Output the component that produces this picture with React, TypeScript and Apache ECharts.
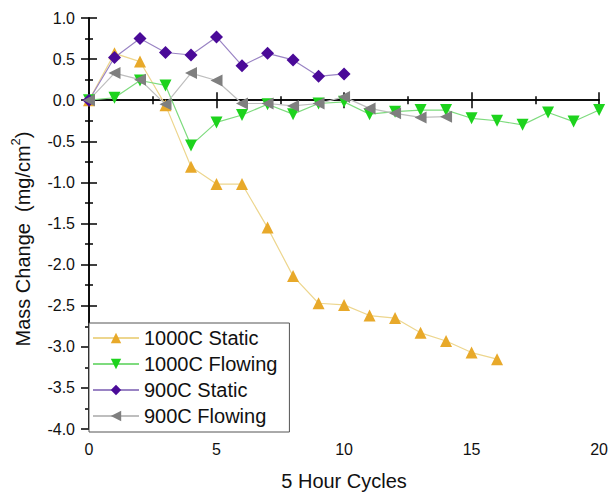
import React, { useEffect, useRef } from "react";
import * as echarts from "echarts";

const cycles = [0, 1, 2, 3, 4, 5, 6, 7, 8, 9, 10, 11, 12, 13, 14, 15, 16, 17, 18, 19, 20];
const static1000 = [0, 0.57, 0.47, -0.06, -0.81, -1.02, -1.02, -1.55, -2.14, -2.47, -2.49, -2.62, -2.65, -2.83, -2.93, -3.07, -3.15];
const flowing1000 = [0, 0.03, 0.24, 0.18, -0.55, -0.27, -0.18, -0.05, -0.17, -0.04, -0.02, -0.17, -0.14, -0.12, -0.12, -0.22, -0.25, -0.3, -0.15, -0.26, -0.12];
const static900 = [0, 0.52, 0.75, 0.58, 0.55, 0.77, 0.42, 0.57, 0.49, 0.29, 0.32];
const flowing900 = [0, 0.33, 0.25, -0.05, 0.33, 0.24, -0.04, -0.04, -0.07, -0.04, 0.04, -0.1, -0.16, -0.21, -0.2];

const FONT = "Liberation Sans, Arial, sans-serif";

function pairs(vals: number[]) {
  return vals.map((v, i) => [cycles[i], v]);
}

export default function App() {
  const ref = useRef<HTMLDivElement>(null);
  useEffect(() => {
    if (!ref.current) return;
    const chart = echarts.init(ref.current, null, { renderer: "svg" });
    const axisLine = { show: true, lineStyle: { color: "#000", width: 1.5 } };
    const tick = { show: true, inside: false, length: 8, lineStyle: { color: "#000", width: 1.5 } };
    const minor = { show: true, splitNumber: 2, length: 4, lineStyle: { color: "#000", width: 1.5 } };
    const mk = (name: string, data: number[], color: string, line: string, symbol: string, rot: number, size: number) => ({
      name,
      type: "line",
      data: pairs(data),
      symbol,
      symbolSize: size,
      symbolRotate: rot,
      showSymbol: true,
      itemStyle: { color },
      lineStyle: { color: line, width: 1.2 },
      emphasis: { disabled: true },
    });
    chart.setOption({
      animation: false,
      textStyle: { fontFamily: FONT },
      grid: { left: 89, right: 10, top: 18, bottom: 63, containLabel: false },
      graphic: [
        {
          type: "text",
          x: 21,
          y: 239,
          rotation: Math.PI / 2,
          style: {
            text: "{a|Mass Change  (mg/cm}{s|2}{a|)}",
            align: "center",
            verticalAlign: "middle",
            fill: "#111",
            font: "20px " + FONT,
            rich: {
              a: { fontSize: 20, fontFamily: FONT, fill: "#111", lineHeight: 24, verticalAlign: "bottom" },
              s: { fontSize: 13, fontFamily: FONT, fill: "#111", lineHeight: 24, verticalAlign: "top" },
            },
          },
        },
      ],
      legend: {
        orient: "vertical",
        left: 89,
        top: 323,
        padding: [5, 12, 6, 3],
        itemGap: 6,
        itemWidth: 46,
        itemHeight: 13,
        borderColor: "#555",
        borderWidth: 1,
        backgroundColor: "#fff",
        textStyle: { fontSize: 20, color: "#111", fontFamily: FONT },
        data: ["1000C Static", "1000C Flowing", "900C Static", "900C Flowing"],
      },
      xAxis: [
        {
          type: "value",
          min: 0,
          max: 20,
          interval: 5,
          position: "bottom",
          name: "5 Hour Cycles",
          nameLocation: "middle",
          nameGap: 42,
          nameTextStyle: { fontSize: 20, color: "#111", fontFamily: FONT },
          axisLine,
          axisTick: tick,
          minorTick: minor,
          axisLabel: { fontSize: 16, color: "#111", margin: 12, fontFamily: FONT },
          splitLine: { show: false },
        },
        {
          type: "value",
          min: 0,
          max: 20,
          interval: 5,
          position: "top",
          axisLine,
          axisTick: tick,
          minorTick: minor,
          axisLabel: { show: false },
          splitLine: { show: false },
        },
      ],
      yAxis: [
        {
          type: "value",
          min: -4,
          max: 1,
          interval: 0.5,
          position: "left",
          axisLine,
          axisTick: tick,
          minorTick: minor,
          axisLabel: {
            fontSize: 16,
            color: "#111",
            margin: 14,
            fontFamily: FONT,
            formatter: (v: number) => v.toFixed(1),
          },
          splitLine: { show: false },
        },
        {
          type: "value",
          min: -4,
          max: 1,
          interval: 0.5,
          position: "right",
          axisLine,
          axisTick: tick,
          minorTick: minor,
          axisLabel: { show: false },
          splitLine: { show: false },
        },
      ],
      series: [
        mk("1000C Static", static1000, "#E8A92A", "#EDD68E", "triangle", 0, 12),
        mk("1000C Flowing", flowing1000, "#1DD31D", "#7EDB7E", "triangle", 180, 12),
        mk("900C Static", static900, "#4A0A98", "#9A84C4", "diamond", 0, 13),
        mk("900C Flowing", flowing900, "#7F7F7F", "#BEBEBE", "triangle", 90, 12),
      ],
    });
    return () => chart.dispose();
  }, []);
  return <div ref={ref} style={{ width: 611, height: 496, position: "absolute", left: 0, top: 0, background: "#fff" }} />;
}
